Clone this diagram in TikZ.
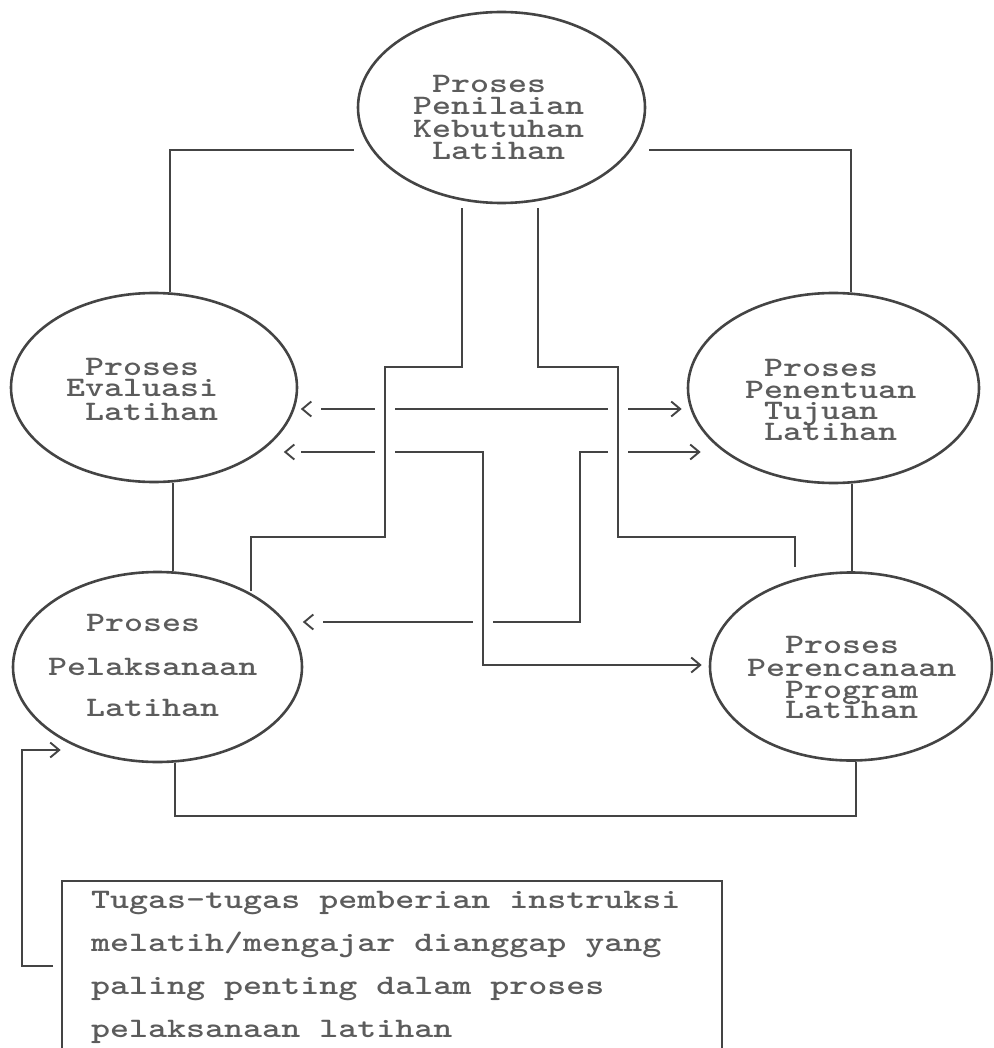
\documentclass[tikz,border=0pt]{standalone}
\usepackage{graphicx}
\usetikzlibrary{arrows.meta,calc,shapes.geometric,backgrounds}
\definecolor{ink}{HTML}{444444}
\definecolor{txtc}{HTML}{5C5C5C}
% squeeze the typewriter face vertically to get the printer look
\newcommand\sq[1]{\scalebox{1}[0.78]{#1}}
\begin{document}
\begin{tikzpicture}[x=1pt,y=-1pt,
  proc/.style={draw=ink, line width=2.6pt, ellipse, inner sep=0pt},
  conn/.style={draw=ink, line width=1.9pt},
  halo/.style={preaction={draw=white, line width=20pt, -}},
  tip/.style={-{Straight Barb[length=9pt,width=15pt]}},
  lbl/.style={inner sep=0pt, anchor=base west, text=txtc,
              font=\ttfamily\bfseries\fontsize{36.2}{36}\selectfont},
  lch/.pic={\draw[conn] (9,-7.5) -- (0,0) -- (9,7.5);}
]
\useasboundingbox (0,0) rectangle (993,1048);
\clip (0,0) rectangle (993,1048);

% process ellipses
\node[proc, minimum width=287pt, minimum height=191pt] (tn) at (501.5,107.5) {};
\node[proc, minimum width=286pt, minimum height=189pt] (ev) at (154,387.5) {};
\node[proc, minimum width=291pt, minimum height=190pt] (pt) at (833.5,388) {};
\node[proc, minimum width=289pt, minimum height=190pt] (pl) at (157.5,667) {};
\node[proc, minimum width=282pt, minimum height=188pt] (pr) at (851,666.5) {};

% note box
\node[draw=ink, line width=1.9pt, anchor=north west, minimum width=660pt,
      minimum height=200pt, inner sep=0pt] (note) at (61,880) {};

% labels, set on a fixed character grid
\foreach \c/\w/\y [count=\i] in {1/Proses/85,0/Penilaian/107,0/Kebutuhan/130,1/Latihan/152}
  \node[lbl] (tn-\i) at (413+19*\c,\y+8) {\sq{\w}};
\foreach \c/\w/\y [count=\i] in {1/Proses/367,0/Evaluasi/388,1/Latihan/412}
  \node[lbl] (ev-\i) at (66+19*\c,\y+8) {\sq{\w}};
\foreach \c/\w/\y [count=\i] in {1/Proses/368,0/Penentuan/390,1/Tujuan/411,1/Latihan/432}
  \node[lbl] (pt-\i) at (745+19*\c,\y+8) {\sq{\w}};
\foreach \c/\w/\y [count=\i] in {2/Proses/623,0/Pelaksanaan/667,2/Latihan/708}
  \node[lbl] (pl-\i) at (48+19*\c,\y+8) {\sq{\w}};
\foreach \c/\w/\y [count=\i] in {2/Proses/645,0/Perencanaan/668,2/Program/690,2/Latihan/710}
  \node[lbl] (pr-\i) at (747+19*\c,\y+8) {\sq{\w}};
\foreach \w/\y [count=\i] in {{Tugas-tugas pemberian instruksi}/908,
    {melatih/mengajar dianggap yang}/951,
    {paling penting dalam proses}/994,
    {pelaksanaan latihan}/1037}
  \node[lbl] (note-\i) at (91,\y) {\sq{\w}};

\begin{scope}[on background layer]
  % outer ring
  \draw[conn] ($(tn.west)+(-3,42.5)$) -| ($(ev.north)+(16,0)$);
  \draw[conn] ($(tn.east)+(3,42.5)$) -| ($(pt.north)+(17.5,0)$);
  \coordinate (evs) at ($(ev.south)+(19,0)$);
  \draw[conn] (evs) -- (evs |- pl.north);
  \coordinate (pts) at ($(pt.south)+(18.5,0)$);
  \draw[conn] (pts) -- (pts |- pr.north);
  \draw[conn] ($(pl.south)+(17.5,0)$) -- ++(0,53) -| ($(pr.south)+(5,0)$);

  % feedback from the note
  \coordinate (fb) at (22,750);
  \draw[conn,tip] ($(note.north west)+(-8,86)$) -| (fb) -- ($(pl.west)+(49,83)$);

  % Pelaksanaan <-> Penentuan
  \coordinate (r3l) at ($(pl.east)+(1,-45)$);
  \coordinate (r3r) at ($(pt.west)+(14,64)$);
  \draw[conn,tip] ($(r3l)+(19,0)$) -| (580,452) -- (r3r);

  % Evaluasi <-> Perencanaan
  \coordinate (r2l) at ($(ev.east)+(-13,64.5)$);
  \coordinate (r2r) at ($(pr.west)+(-7,-1.5)$);
  \draw[conn,halo,tip] ($(r2l)+(16,0)$) -| (483,665) -- (r2r);

  % Evaluasi <-> Penentuan
  \coordinate (r1l) at ($(ev.east)+(4,21.5)$);
  \coordinate (r1r) at ($(pt.west)+(-5,21)$);
  \draw[conn,tip] ($(r1l)+(19,0)$) -- (r1r);

  % Penilaian -> Pelaksanaan / Perencanaan
  \draw[conn,halo] ($(tn.south)+(-39.5,4)$) |- (385,367) |- (251,537)
        -- ($(pl.north)+(93.5,20)$);
  \draw[conn,halo] ($(tn.south)+(36.5,4)$) |- (618,367) |- (795,537)
        -- ($(pr.north)+(-56,-4)$);

  % detached left chevrons
  \pic at (r1l) {lch};
  \pic at (r2l) {lch};
  \pic at (r3l) {lch};
\end{scope}
\end{tikzpicture}
\end{document}
